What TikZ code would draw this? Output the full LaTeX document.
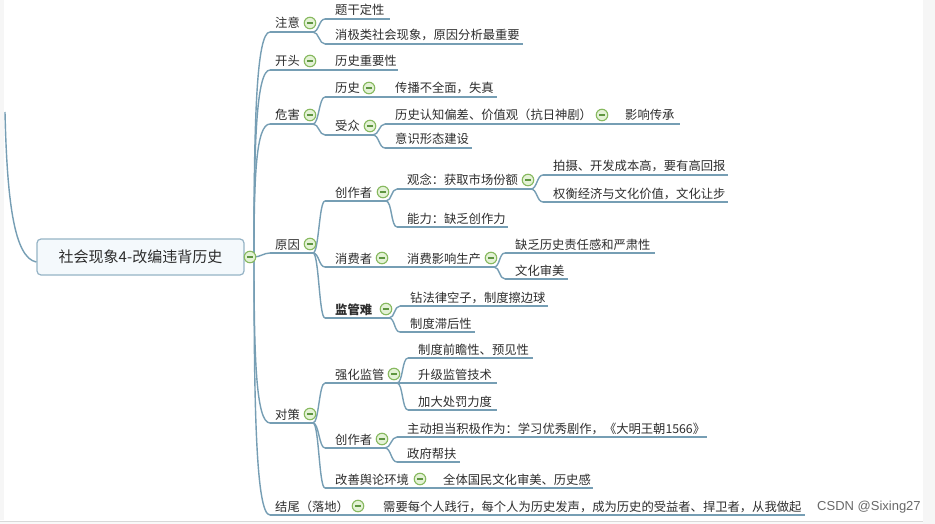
\documentclass[tikz,border=0pt]{standalone}
\usepackage{fontspec}
\setmainfont{Noto Sans CJK SC}
\newfontfamily\wmfont{Liberation Sans}
\definecolor{linec}{RGB}{118,158,180}
\definecolor{textc}{RGB}{45,45,45}
\definecolor{ringc}{RGB}{135,185,95}
\definecolor{ringf}{RGB}{228,242,214}
\definecolor{ringm}{RGB}{95,150,65}
\definecolor{boxf}{RGB}{244,249,252}
\definecolor{boxd}{RGB}{150,180,198}
\definecolor{wmc}{RGB}{105,105,105}
\newcommand\tfs{\fontsize{12.3pt}{14pt}\selectfont}
\newcommand\tpc[6]{%
  \coordinate (#1-s) at (#4,#3);
  \coordinate (#1-e) at (#5,#3);
  \draw[ln] (#1-s) -- (#1-e);
  \node[txt] (#1) at (#2,#3-4) {#6};
}
\newcommand\cir[3]{\node[cc] (#1-c) at (#2,#3-9) {};}
\tikzset{
  txt/.style={font=\tfs, text=textc, inner sep=0pt, anchor=base west},
  ln/.style={draw=linec, line width=1.4pt},
  cc/.style={circle, draw=ringc, fill=ringf, line width=1.1pt, minimum size=11.5pt, inner sep=0pt,
    path picture={\draw[ringm, line width=1.1pt] ([xshift=-2.7pt]path picture bounding box.center) -- ([xshift=2.7pt]path picture bounding box.center);}},
  br/.style={ln, out=0, in=180, out distance=6pt, in distance=6pt},
  tup/.style={ln, out=90, in=180, out distance=#1, in distance=14pt},
  tdn/.style={ln, out=-90, in=180, out distance=#1, in distance=14pt},
}
\begin{document}
\begin{tikzpicture}[x=1pt,y=-1pt]
\useasboundingbox (0,0) rectangle (935,524);
\fill[white] (0,0) rectangle (935,524);
\fill[gray!7] (0,0) rectangle (4,520);
\fill[gray!7] (923,0) rectangle (935,524);
\fill[gray!5] (0,521) rectangle (923,524);
\draw[gray!30, line width=1pt] (0,521) -- (923,521);

% root
\node[draw=boxd, fill=boxf, line width=1.2pt, rounded corners=4pt, minimum width=207pt, minimum height=36pt,
      inner sep=0pt, font=\fontsize{15pt}{17pt}\selectfont, text=textc] (root) at (140.5,257) {社会现象4-改编违背历史};
\coordinate (up) at (5,112);
\draw[ln] (up) .. controls (7,200) and (14,258) .. ([yshift=-5pt]root.west);
\coordinate (root-e) at (254,257);

% level 1
\tpc{zy}{275}{32}{270}{313}{注意}
\tpc{kt}{275}{70}{270}{313}{开头}
\tpc{wh}{275}{124}{270}{313}{危害}
\tpc{yy}{275}{253}{270}{313}{原因}
\tpc{dc}{275}{423}{270}{313}{对策}
\tpc{jw}{275}{515}{270}{361}{结尾（落地）}
\draw[tup=130pt] (root-e) to (zy-s);
\draw[tup=110pt] (root-e) to (kt-s);
\draw[tup=80pt] (root-e) to (wh-s);
\draw[br] (root-e) to (yy-s);
\draw[tdn=100pt] (root-e) to (dc-s);
\draw[tdn=150pt] (root-e) to (jw-s);

% 注意
\tpc{tg}{335}{19}{325}{390}{题干定性}
\tpc{xj}{335}{44}{325}{523}{消极类社会现象，原因分析最重要}
\draw[br] (zy-e) to (tg-s);
\draw[br] (zy-e) to (xj-s);
% 开头
\tpc{ls}{335}{70}{325}{398}{历史重要性}
\draw[br] (kt-e) to (ls-s);
% 危害
\tpc{whls}{335}{97}{325}{372}{历史}
\tpc{sz}{335}{135}{325}{373}{受众}
\draw[br] (wh-e) to (whls-s);
\draw[br] (wh-e) to (sz-s);
\tpc{cb}{395}{97}{385}{497}{传播不全面，失真}
\draw[br] (whls-e) to (cb-s);
\tpc{rz}{395}{124}{385}{605}{历史认知偏差、价值观（抗日神剧）}
\tpc{ys}{395}{148}{385}{472}{意识形态建设}
\draw[br] (sz-e) to (rz-s);
\draw[br] (sz-e) to (ys-s);
\tpc{yx}{625}{124}{615}{680}{影响传承}
\draw[br] (rz-e) to (yx-s);

% 原因
\tpc{cz}{335}{201}{325}{386}{创作者}
\tpc{xf}{335}{267}{325}{385}{消费者}
\tpc{jg}{335}{318}{325}{389}{\bfseries 监管难}
\draw[br] (yy-e) to (cz-s);
\draw[br] (yy-e) to (xf-s);
\draw[br] (yy-e) to (jg-s);
\tpc{gn}{407}{189}{397}{531}{观念：获取市场份额}
\tpc{nl}{407}{227}{397}{508}{能力：缺乏创作力}
\draw[br] (cz-e) to (gn-s);
\draw[br] (cz-e) to (nl-s);
\tpc{ps}{553}{175}{543}{728}{拍摄、开发成本高，要有高回报}
\tpc{qh}{553}{202}{543}{728}{权衡经济与文化价值，文化让步}
\draw[br] (gn-e) to (ps-s);
\draw[br] (gn-e) to (qh-s);
\tpc{xy}{407}{267}{397}{494}{消费影响生产}
\draw[br] (xf-e) to (xy-s);
\tpc{qf}{515}{253}{505}{655}{缺乏历史责任感和严肃性}
\tpc{sm}{515}{279}{505}{568}{文化审美}
\draw[br] (xy-e) to (qf-s);
\draw[br] (xy-e) to (sm-s);
\tpc{zf}{410}{306}{400}{548}{钻法律空子，制度擦边球}
\tpc{zh}{410}{332}{400}{475}{制度滞后性}
\draw[br] (jg-e) to (zf-s);
\draw[br] (jg-e) to (zh-s);

% 对策
\tpc{qhjg}{335}{383}{325}{397}{强化监管}
\tpc{czb}{335}{448}{325}{385}{创作者}
\tpc{gs}{335}{488}{325}{423}{改善舆论环境}
\draw[br] (dc-e) to (qhjg-s);
\draw[br] (dc-e) to (czb-s);
\draw[br] (dc-e) to (gs-s);
\tpc{qz}{418}{358}{408}{533}{制度前瞻性、预见性}
\tpc{sj}{418}{383}{408}{497}{升级监管技术}
\tpc{jd}{418}{410}{408}{497}{加大处罚力度}
\draw[br] (qhjg-e) to (qz-s);
\draw[br] (qhjg-e) to (sj-s);
\draw[br] (qhjg-e) to (jd-s);
\tpc{zd}{407}{437}{397}{707}{主动担当积极作为：学习优秀剧作，《大明王朝1566》}
\tpc{zfb}{407}{462}{397}{460}{政府帮扶}
\draw[br] (czb-e) to (zd-s);
\draw[br] (czb-e) to (zfb-s);
\tpc{qt}{443}{488}{433}{593}{全体国民文化审美、历史感}
\draw[br] (gs-e) to (qt-s);

% 结尾
\tpc{xyb}{383}{515}{373}{805}{需要每个人践行，每个人为历史发声，成为历史的受益者、捍卫者，从我做起}
\draw[br] (jw-e) to (xyb-s);

% collapse circles
\node[cc] (root-c) at (250,257) {};
\cir{zy}{310}{32}
\cir{kt}{310}{70}
\cir{wh}{310}{124}
\cir{yy}{310}{253}
\cir{dc}{310}{423}
\cir{jw}{358}{515}
\cir{whls}{369}{97}
\cir{sz}{370}{135}
\cir{rz}{602}{124}
\cir{cz}{383}{201}
\cir{xf}{382}{267}
\cir{jg}{386}{318}
\cir{gn}{528}{189}
\cir{xy}{491}{267}
\cir{qhjg}{394}{383}
\cir{czb}{382}{448}
\cir{gs}{420}{488}

% watermark
\node[anchor=west, inner sep=0pt, font=\wmfont\fontsize{13pt}{15pt}\selectfont, text=wmc] (wm) at (817,507) {CSDN @Sixing27};
\end{tikzpicture}
\end{document}
